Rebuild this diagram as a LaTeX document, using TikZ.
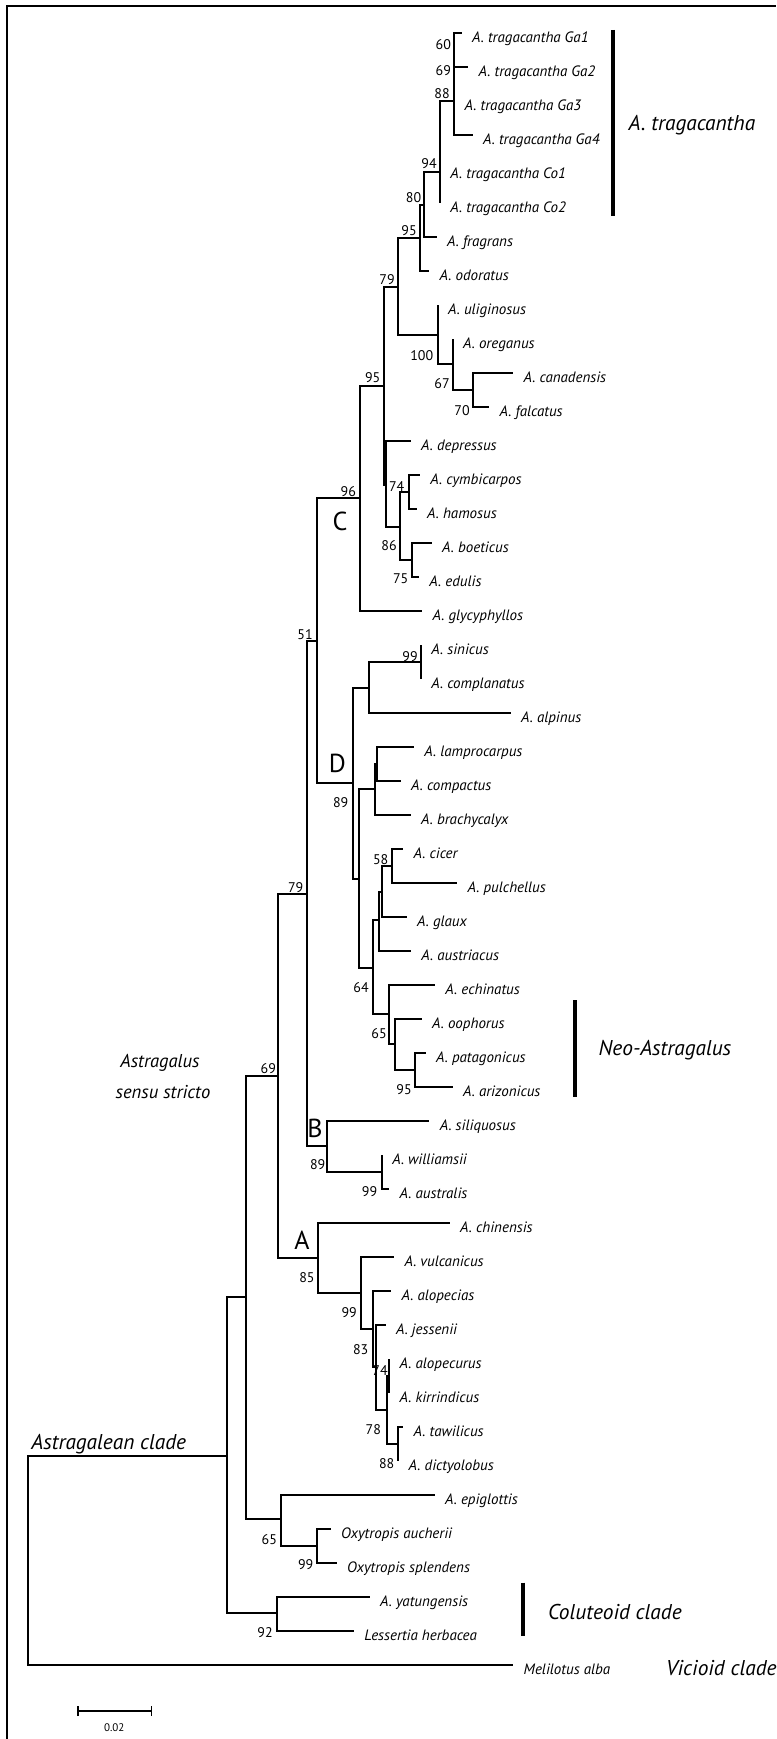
\documentclass[tikz,border=0pt]{standalone}
\usepackage{fontspec}
\setmainfont{PT Sans}
\usetikzlibrary{arrows.meta}

\begin{document}
\begin{tikzpicture}[x=0.5pt, y=-0.5pt,
    branch/.style = {line width=0.9pt},
    bar/.style = {line width=2pt},
    taxon/.style = {anchor=base west, inner sep=0pt, xshift=5pt, yshift=-4.75pt,
                    font=\fontsize{7.5}{9}\selectfont\itshape},
    boot/.style = {inner sep=0pt, font=\fontsize{7}{8}\selectfont},
    clade/.style = {inner sep=0pt, font=\fontsize{13}{15}\selectfont},
    group/.style = {anchor=base west, inner sep=0pt, font=\fontsize{10.7}{13}\selectfont\itshape}]
    \useasboundingbox (0,0) rectangle (776,1739);
    \draw[line width=0.6pt] (7,1739) |- (776,6);

    % tips: name / x of tip / row / label
    \foreach \n/\x/\k/\s in {
        ga1/461.7/1/{A. tragacantha Ga1}, ga2/468.3/2/{A. tragacantha Ga2},
        ga3/454.3/3/{A. tragacantha Ga3}, ga4/472.7/4/{A. tragacantha Ga4},
        co1/440/5/{A. tragacantha Co1}, co2/440/6/{A. tragacantha Co2},
        fragrans/436.7/7/{A. fragrans}, odoratus/429.3/8/{A. odoratus},
        uliginosus/437.7/9/{A. uliginosus}, oreganus/452.7/10/{A. oreganus},
        canadensis/513.3/11/{A. canadensis}, falcatus/489.3/12/{A. falcatus},
        depressus/410.7/13/{A. depressus}, cymbicarpos/420/14/{A. cymbicarpos},
        hamosus/416.7/15/{A. hamosus}, boeticus/431.7/16/{A. boeticus},
        edulis/419/17/{A. edulis}, glycyphyllos/422.3/18/{A. glycyphyllos},
        sinicus/421/19/{A. sinicus}, complanatus/421/20/{A. complanatus},
        alpinus/510.7/21/{A. alpinus}, lamprocarpus/414/22/{A. lamprocarpus},
        compactus/400.7/23/{A. compactus}, brachycalyx/410.7/24/{A. brachycalyx},
        cicer/403.3/25/{A. cicer}, pulchellus/457.3/26/{A. pulchellus},
        glaux/406.7/27/{A. glaux}, austriacus/411/28/{A. austriacus},
        echinatus/435/29/{A. echinatus}, oophorus/421.7/30/{A. oophorus},
        patagonicus/425.7/31/{A. patagonicus}, arizonicus/452.7/32/{A. arizonicus},
        siliquosus/429.4/33/{A. siliquosus}, williamsii/381.9/34/{A. williamsii},
        australis/389.3/35/{A. australis}, chinensis/449.8/36/{A. chinensis},
        vulcanicus/394.1/37/{A. vulcanicus}, alopecias/391.2/38/{A. alopecias},
        jessenii/385.6/39/{A. jessenii}, alopecurus/389.3/40/{A. alopecurus},
        kirrindicus/389.3/41/{A. kirrindicus}, tawilicus/403.3/42/{A. tawilicus},
        dictyolobus/398.3/43/{A. dictyolobus}, epiglottis/434.7/44/{A. epiglottis},
        aucherii/330.7/45/{Oxytropis aucherii}, splendens/336.6/46/{Oxytropis splendens},
        yatungensis/369.8/47/{A. yatungensis}, lessertia/354/48/{Lessertia herbacea},
        melilotus/513.3/49/{Melilotus alba}}
    {
        \coordinate (\n) at (\x,{33+34*(\k-1)});
        \node[taxon] (\n-name) at (\n) {\s};
    }

    % inner nodes
    \foreach \n/\x/\y in {root/28.3/1560, nag/226.7/1456, ncol/276.7/1613,
        nas/245.7/1297, nepi/281/1519, noxy/316.7/1546, n69/278.3/1076,
        na/317.7/1258, nvul/360.7/1293, nalo/373/1329, njes/376/1367,
        nkir/387.3/1410, nak/389.3/1376, ntd/398.3/1444,
        n79b/306.7/894, nb/327.3/1146, nwil/381.9/1172,
        n51/316.7/641, n96/360/498, n95b/384/386, nx/385.7/485,
        ncb/400/527, ncym/408.7/492, nboe/412/560,
        n79a/397.7/287, nulig/437.7/335, noreg/452.7/364, ncan/472.7/390,
        n95a/420/238, n80/424/205, n94/440/172, n88/454.3/101,
        nd/352.7/783, nsin/368.7/688, nsc/421/662, nlamp/359.3/879,
        nlc/375/789, nlcm/377.3/764, ncic/373.3/968, ngla/379/920,
        ncg/382.3/892, ncp/392.3/866, nech/389.3/1014, noop/394.7/1044,
        npat/415.3/1070}
        \coordinate (\n) at (\x,\y);

    % branches
    \foreach \p/\c in {root/nag, root/melilotus, nag/nas, nag/ncol,
        ncol/yatungensis, ncol/lessertia, nas/n69, nas/nepi,
        nepi/epiglottis, nepi/noxy, noxy/aucherii, noxy/splendens,
        n69/n79b, n69/na, na/chinensis, na/nvul, nvul/vulcanicus, nvul/nalo,
        nalo/alopecias, nalo/njes, njes/jessenii, njes/nkir,
        nkir/nak, nkir/ntd, nak/alopecurus, nak/kirrindicus,
        ntd/tawilicus, ntd/dictyolobus,
        n79b/n51, n79b/nb, nb/siliquosus, nb/nwil,
        nwil/williamsii, nwil/australis,
        n51/n96, n51/nd, n96/n95b, n96/glycyphyllos,
        n95b/n79a, n95b/nx, nx/depressus, nx/ncb,
        ncb/ncym, ncb/nboe, ncym/cymbicarpos, ncym/hamosus,
        nboe/boeticus, nboe/edulis,
        n79a/n95a, n79a/nulig, nulig/uliginosus, nulig/noreg,
        noreg/oreganus, noreg/ncan, ncan/canadensis, ncan/falcatus,
        n95a/n80, n95a/odoratus, n80/n94, n80/fragrans,
        n94/n88, n94/co1, n94/co2,
        n88/ga1, n88/ga2, n88/ga3, n88/ga4,
        nd/nsin, nd/nlamp, nsin/nsc, nsin/alpinus,
        nsc/sinicus, nsc/complanatus,
        nlamp/nlc, nlamp/ncic, nlc/nlcm, nlc/brachycalyx,
        nlcm/lamprocarpus, nlcm/compactus,
        ncic/ngla, ncic/nech, ngla/ncg, ngla/austriacus,
        ncg/ncp, ncg/glaux, ncp/cicer, ncp/pulchellus,
        nech/echinatus, nech/noop, noop/oophorus, noop/npat,
        npat/patagonicus, npat/arizonicus}
        \draw[branch] (\p) |- (\c);

    % bootstrap values
    \foreach \x/\y/\v [count=\k] in {443.3/45/60, 443.3/71/69, 442/94/88,
        429/164/94, 413.5/198/80, 409/231/95, 387/280/79,
        421.7/356/100, 442/384/67, 462/410.7/70, 372.7/378/95,
        396.7/486.7/74, 389/545.7/86, 400.7/579/75, 348.3/491.7/96,
        305/635/51, 410/656.7/99, 340.7/802.7/89, 380.7/859.3/58,
        361/987.3/64, 379/1034/65, 404/1089.3/95, 295.7/887.7/79,
        268.3/1068.3/69, 317.7/1165/89, 369.6/1191.7/99, 306.9/1277.3/85,
        349.2/1312.7/99, 360.7/1349.3/83, 380/1370.7/74, 373.3/1430/78,
        386.7/1464/88, 269.3/1540/65, 305.7/1564.3/99, 265/1632.7/92}
        \node[boot] (bs\k) at (\x,\y) {\v};

    % clades
    \node[clade] (cladeC) at (340,521) {C};
    \node[clade] (cladeD) at (337.3,763.3) {D};
    \node[clade] (cladeB) at (315,1128) {B};
    \node[clade] (cladeA) at (302,1240) {A};

    \draw[bar] (613.3,30) -- (613.3,216);
    \node[group] (tragacantha) at (628.3,130.7) {A. tragacantha};
    \draw[bar] (575,1000) -- (575,1096.7);
    \node[group] (neo) at (598.3,1055) {Neo-Astragalus};
    \draw[bar] (523.3,1582.7) -- (523.3,1636);
    \node[group] (coluteoid) at (547.7,1619.3) {Coluteoid clade};
    \node[group] (vicioid) at (665.7,1675) {Vicioid clade};
    \node[group] (astragalean) at (31,1449.3) {Astragalean clade};
    \node[group, anchor=base, font=\fontsize{9.3}{11}\selectfont\itshape] (sensu1) at (160,1067) {Astragalus};
    \node[group, anchor=base, font=\fontsize{9.3}{11}\selectfont\itshape] (sensu2) at (163,1098) {sensu stricto};

    % scale bar
    \coordinate (sb1) at (76.7,1711);
    \coordinate (sb2) at (152.3,1711);
    \draw[branch, {Bar[width=5pt]}-{Bar[width=5pt]}] (sb1) -- (sb2);
    \node[boot, font=\fontsize{5.5}{6}\selectfont] (sblabel) at (114.3,1727.3) {0.02};
\end{tikzpicture}
\end{document}
